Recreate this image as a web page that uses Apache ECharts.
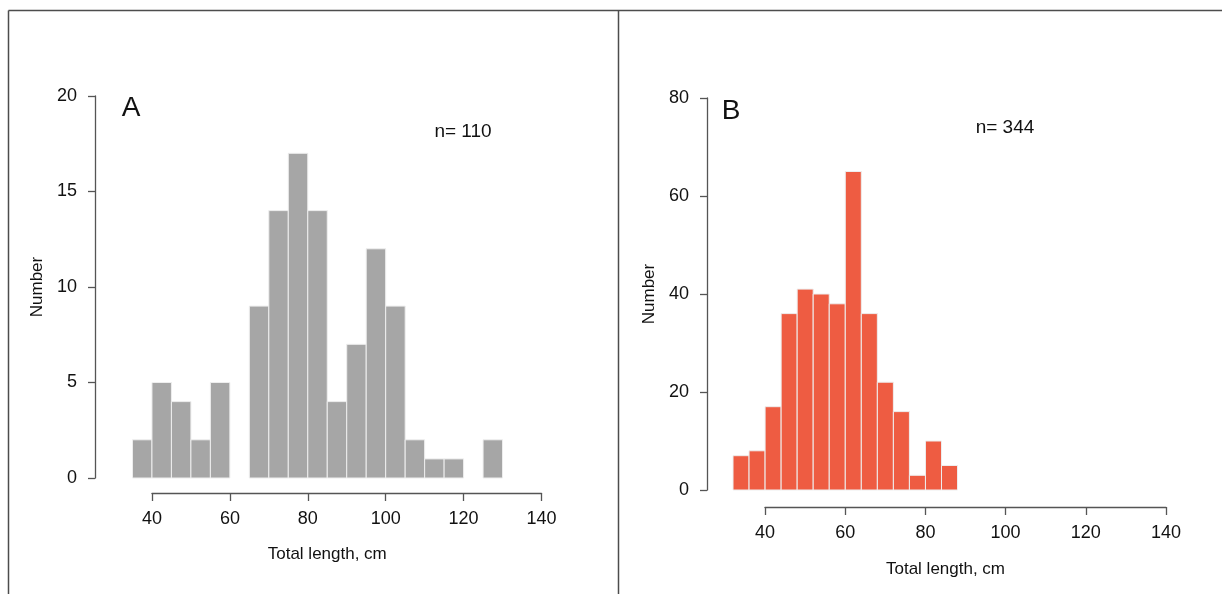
<!DOCTYPE html>
<html>
<head>
<meta charset="utf-8">
<title>Total length histograms</title>
<script src="https://cdn.jsdelivr.net/npm/echarts@6/dist/echarts.min.js"></script>
<style>
  html, body { margin: 0; padding: 0; background: #ffffff; }
  #main { width: 1222px; height: 594px; }
</style>
</head>
<body>
<div id="main"></div>
<script>
// panel A, 5 cm bins
var binStartA = [35, 40, 45, 50, 55, 60, 65, 70, 75, 80, 85, 90, 95, 100, 105, 110, 115, 120, 125];
var countsA = [2, 5, 4, 2, 5, 0, 9, 14, 17, 14, 4, 7, 12, 9, 2, 1, 1, 0, 2];
var binWidthA = 5;
// panel B, 4 cm bins
var binStartB = [32, 36, 40, 44, 48, 52, 56, 60, 64, 68, 72, 76, 80, 84];
var countsB = [7, 8, 17, 36, 41, 40, 38, 65, 36, 22, 16, 3, 10, 5];
var binWidthB = 4;

var xTicks = [40, 60, 80, 100, 120, 140];
var yTicksA = [0, 5, 10, 15, 20];
var yTicksB = [0, 20, 40, 60, 80];
var nA = 110;
var nB = 344;

var FONT = "'Liberation Sans', Arial, sans-serif";
var AXIS_COLOR = "#555555";

function toBins(starts, width, counts) {
  var res = [];
  for (var i = 0; i < starts.length; i++) {
    res.push([starts[i], starts[i] + width, counts[i]]);
  }
  return res;
}

function histItem(fill) {
  return function (params, api) {
    // empty bins draw nothing, like R's hist
    if (!api.value(2)) return;
    var p0 = api.coord([api.value(0), api.value(2)]);
    var p1 = api.coord([api.value(1), 0]);
    return {
      type: "rect",
      shape: { x: p0[0], y: p0[1], width: p1[0] - p0[0], height: p1[1] - p0[1] },
      style: { fill: fill, stroke: "#eeeeee", lineWidth: 1 },
    };
  };
}

// x axis of the bars grid: invisible, only carries the axis title
function hiddenX(gridIndex, gap) {
  return {
    type: "value",
    gridIndex: gridIndex,
    min: 30,
    max: 140,
    axisLine: { show: false },
    axisTick: { show: false },
    axisLabel: { show: false },
    splitLine: { show: false },
    name: "Total length, cm",
    nameLocation: "middle",
    nameGap: gap,
    nameTextStyle: { fontFamily: FONT, fontSize: 17, color: "#111" },
  };
}

// detached R-style x axis
function tickX(gridIndex) {
  return {
    type: "value",
    gridIndex: gridIndex,
    min: xTicks[0],
    max: xTicks[xTicks.length - 1],
    interval: xTicks[1] - xTicks[0],
    axisLine: { show: true, lineStyle: { color: AXIS_COLOR, width: 1.3 } },
    axisTick: { show: true, length: 8, lineStyle: { color: AXIS_COLOR, width: 1.3 } },
    axisLabel: { fontFamily: FONT, fontSize: 18, color: "#111", margin: 17 },
    splitLine: { show: false },
  };
}

function countY(gridIndex, ticks) {
  return {
    type: "value",
    gridIndex: gridIndex,
    min: ticks[0],
    max: ticks[ticks.length - 1],
    interval: ticks[1] - ticks[0],
    offset: 18,
    axisLine: { show: true, onZero: false, lineStyle: { color: AXIS_COLOR, width: 1.3 } },
    axisTick: { show: true, length: 7, lineStyle: { color: AXIS_COLOR, width: 1.3 } },
    axisLabel: { fontFamily: FONT, fontSize: 18, color: "#111", margin: 18 },
    splitLine: { show: false },
    name: "Number",
    nameLocation: "middle",
    nameRotate: 90,
    nameGap: 49,
    nameTextStyle: { fontFamily: FONT, fontSize: 17, color: "#111" },
  };
}

function blankY(gridIndex) {
  return {
    type: "value",
    gridIndex: gridIndex,
    min: 0,
    max: 1,
    show: false,
  };
}

function label(text, x, y, size) {
  return {
    type: "text",
    x: x,
    y: y,
    style: {
      text: text,
      fontFamily: FONT,
      fontSize: size,
      fill: "#111",
      align: "center",
      verticalAlign: "middle",
    },
  };
}

function frameLine(x1, y1, x2, y2) {
  return {
    type: "line",
    shape: { x1: x1, y1: y1, x2: x2, y2: y2 },
    style: { stroke: "#4d4d4d", lineWidth: 1.5 },
  };
}

var myChart = echarts.init(document.getElementById("main"), null, { renderer: "canvas" });
var option = {
  backgroundColor: "#ffffff",
  animation: false,
  grid: [
    { left: 113, top: 96, width: 428.5, height: 382 },
    { left: 152, top: 483, width: 389.5, height: 10 },
    { left: 725, top: 98, width: 441, height: 392 },
    { left: 765, top: 497, width: 401, height: 10 },
  ],
  xAxis: [hiddenX(0, 68), tickX(1), hiddenX(2, 71), tickX(3)],
  yAxis: [countY(0, yTicksA), blankY(1), countY(2, yTicksB), blankY(3)],
  series: [
    {
      type: "custom",
      xAxisIndex: 0,
      yAxisIndex: 0,
      renderItem: histItem("#a6a6a6"),
      encode: { x: [0, 1], y: 2 },
      data: toBins(binStartA, binWidthA, countsA),
    },
    {
      type: "custom",
      xAxisIndex: 2,
      yAxisIndex: 2,
      renderItem: histItem("#ee5c42"),
      encode: { x: [0, 1], y: 2 },
      data: toBins(binStartB, binWidthB, countsB),
    },
  ],
  graphic: [
    frameLine(8.5, 10.5, 1222, 10.5),
    frameLine(8.5, 10.5, 8.5, 594),
    frameLine(618.5, 10.5, 618.5, 594),
    label("A", 131, 108, 28),
    label("B", 731, 111, 28),
    label("n= " + nA, 463, 132, 19),
    label("n= " + nB, 1005, 128, 19),
  ],
};
option && myChart.setOption(option);
</script>
</body>
</html>
